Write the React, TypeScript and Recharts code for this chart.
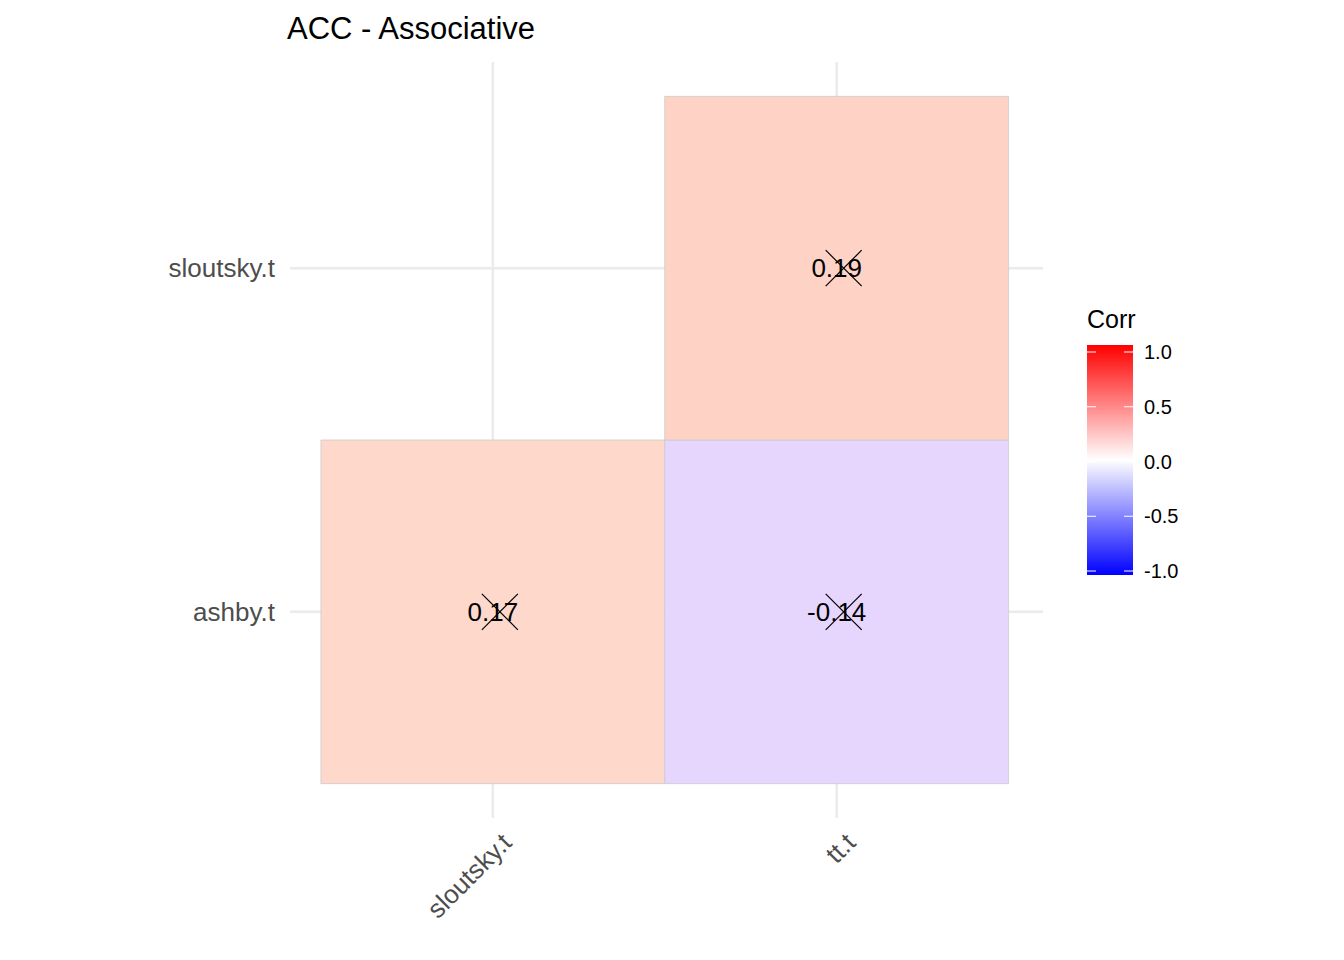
import { ScatterChart, Scatter, XAxis, YAxis, CartesianGrid, ReferenceArea, LabelList } from "recharts";

const xCats = ["sloutsky.t", "tt.t"];
const yCats = ["ashby.t", "sloutsky.t"];
const cells = [
  { x: 1, y: 1, corr: 0.17, label: "0.17", fill: "#FDD8CB" },
  { x: 2, y: 1, corr: -0.14, label: "-0.14", fill: "#E6D6FE" },
  { x: 2, y: 2, corr: 0.19, label: "0.19", fill: "#FED3C5" },
];
const legendTicks = [1.0, 0.5, 0.0, -0.5, -1.0];

const FONT = "'Liberation Sans', Arial, sans-serif";

function Cross(props: any) {
  const { cx, cy } = props;
  const s = 18;
  const c = cx + 7;
  return (
    <g>
      <line x1={c - s} y1={cy + s} x2={c + s} y2={cy - s} stroke="#000" strokeWidth={1.2} />
      <line x1={c - s} y1={cy - s} x2={c + s} y2={cy + s} stroke="#000" strokeWidth={1.2} />
    </g>
  );
}

function XTick(props: any) {
  const { x, y, payload } = props;
  return (
    <text x={x + 14} y={y + 12} transform={`rotate(-45 ${x + 14} ${y + 12})`} textAnchor="end" dominantBaseline="central" fontSize={26} fill="#4d4d4d" fontFamily={FONT}>
      {xCats[payload.value - 1]}
    </text>
  );
}

function YTick(props: any) {
  const { x, y, payload } = props;
  return (
    <text x={x - 7} y={y} textAnchor="end" dominantBaseline="central" fontSize={26} fill="#4d4d4d" fontFamily={FONT}>
      {yCats[payload.value - 1]}
    </text>
  );
}

export default function App() {
  return (
    <div style={{ position: "absolute", left: 0, top: 0, width: 1344, height: 960, background: "#fff", fontFamily: FONT }}>
      <ScatterChart width={1344} height={960} margin={{ top: 62, right: 301, bottom: 0, left: 0 }}>
        <CartesianGrid stroke="#ebebeb" strokeWidth={2.5} horizontalValues={[1, 2]} verticalValues={[1, 2]} />
        <XAxis type="number" dataKey="x" domain={[0.41, 2.6]} ticks={[1, 2]} height={142} axisLine={false} tickLine={false} tick={<XTick />} />
        <YAxis type="number" dataKey="y" domain={[0.4, 2.6]} ticks={[1, 2]} width={290} axisLine={false} tickLine={false} tick={<YTick />} />
        {cells.map((c) => (
          <ReferenceArea key={c.x + "-" + c.y} x1={c.x - 0.5} x2={c.x + 0.5} y1={c.y - 0.5} y2={c.y + 0.5} fill={c.fill} fillOpacity={1} stroke="#cccccc" strokeWidth={0.8} ifOverflow="visible" />
        ))}
        <Scatter data={cells} shape={<Cross />} isAnimationActive={false}>
          <LabelList dataKey="label" position="center" fill="#000" fontSize={26} fontFamily={FONT} />
        </Scatter>
      </ScatterChart>
      <svg style={{ position: "absolute", left: 0, top: 0 }} width={1344} height={960}>
        <text x={287} y={39} fontSize={31} fill="#000" fontFamily={FONT}>ACC - Associative</text>
        <text x={1087} y={328} fontSize={25} fill="#000" fontFamily={FONT}>Corr</text>
        <defs>
          <linearGradient id="g" x1="0" y1="0" x2="0" y2="1">
            <stop offset="0" stopColor="#FF0000" />
            <stop offset="0.5" stopColor="#FFFFFF" />
            <stop offset="1" stopColor="#0000FF" />
          </linearGradient>
        </defs>
        <rect x={1087} y={345} width={46} height={230} fill="url(#g)" />
        {legendTicks.map((t) => {
          const y = 352 + ((1 - t) / 2) * 219;
          return (
            <g key={t}>
              <line x1={1087} x2={1096} y1={y} y2={y} stroke="#fff" />
              <line x1={1124} x2={1133} y1={y} y2={y} stroke="#fff" />
              <text x={1144} y={y} dominantBaseline="central" fontSize={20} fill="#000" fontFamily={FONT}>{t.toFixed(1)}</text>
            </g>
          );
        })}
      </svg>
    </div>
  );
}
